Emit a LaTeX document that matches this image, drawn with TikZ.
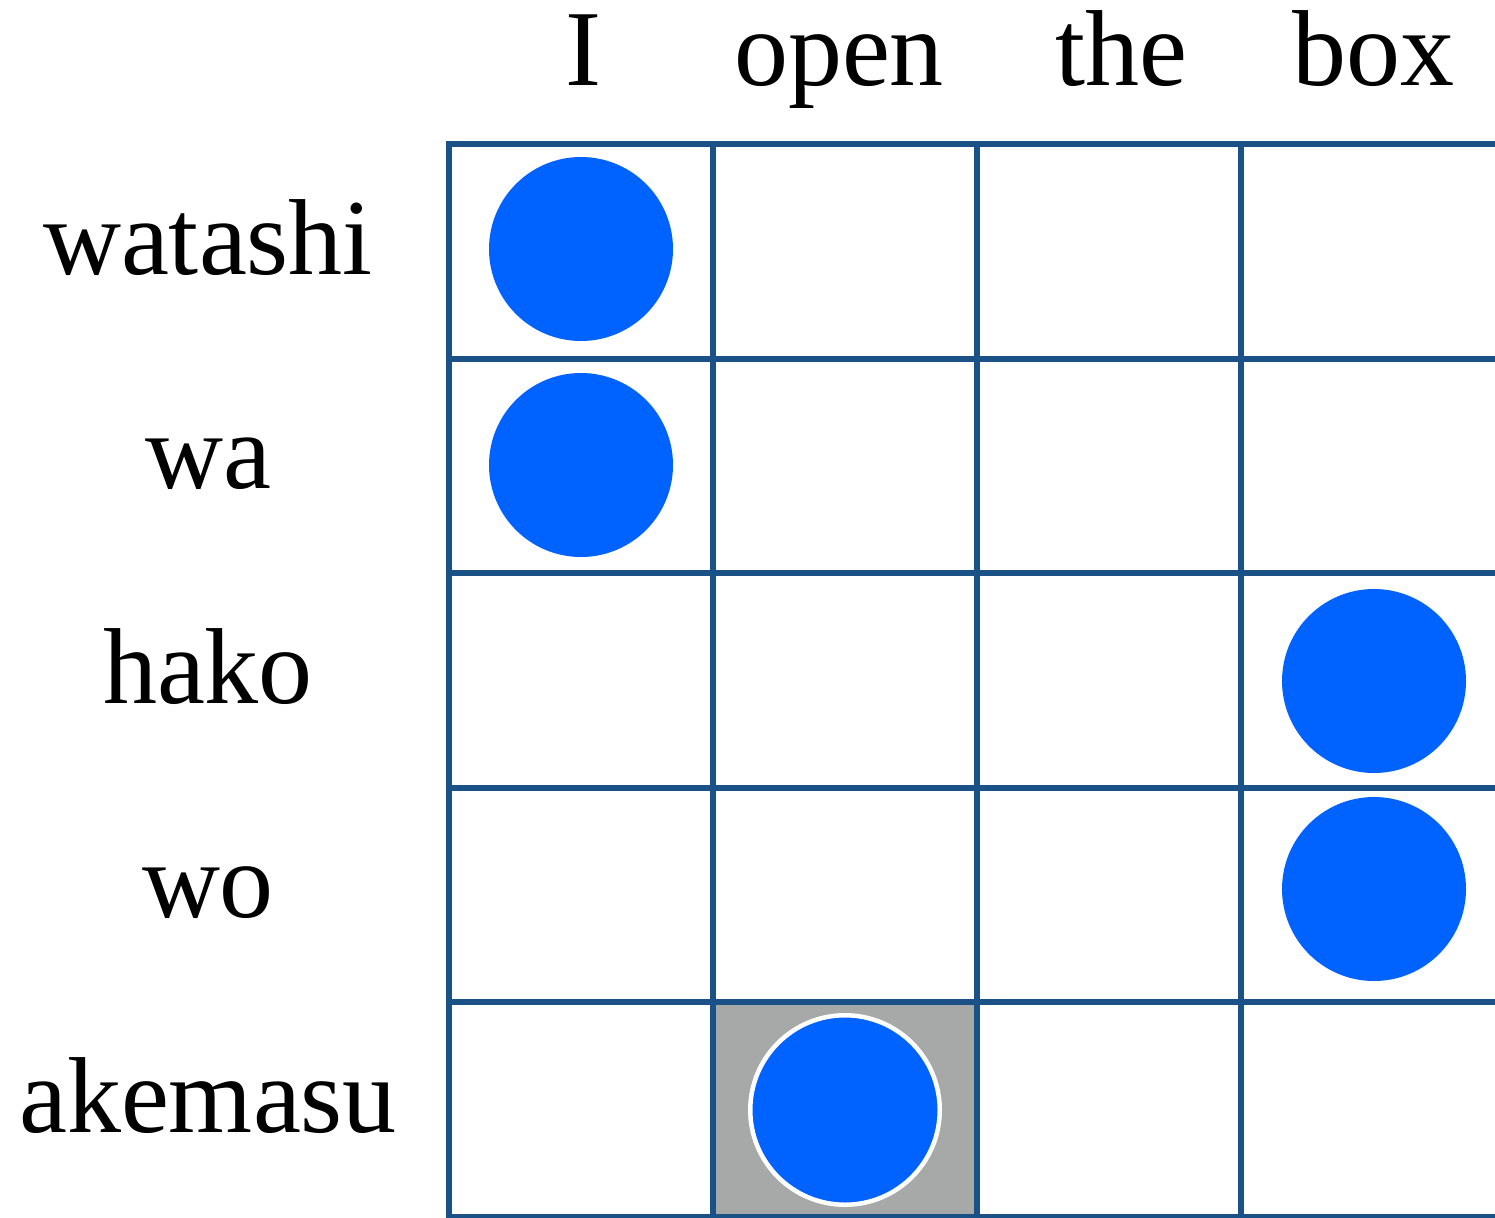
\documentclass[tikz,border=0pt]{standalone}
\usepackage{fontspec}
\setmainfont{Liberation Serif}
\usepackage{tikz}
\usetikzlibrary{positioning}
\definecolor{gridblue}{HTML}{1A5186}
\definecolor{dotblue}{HTML}{0062FF}
\definecolor{cellgrey}{HTML}{A6A9A8}
\tikzset{
  word/.style     = {font=\fontsize{108}{120}\selectfont, inner sep=0pt, anchor=base},
  gridline/.style = {draw=gridblue, line width=6pt},
  dot/.style      = {circle, fill=dotblue, minimum size=184pt, inner sep=0pt},
  hit/.style      = {dot, draw=white, line width=4.5pt, minimum size=189.5pt},
  hl/.style       = {fill=cellgrey},
}

\begin{document}
\begin{tikzpicture}[x=1pt,y=-1pt]
  \useasboundingbox (0,0) rectangle (1495,1217);

  % shaded cell behind the grid
  \fill[hl] (713,1002.5) rectangle (977,1217);

  % grid
  \foreach \c in {0,...,4}
    \draw[gridline] ({449+\c*264},141) -- ({449+\c*264},1217);
  \foreach \r in {0,...,5}
    \draw[gridline] (446,{144+\r*214.5}) -- (1495,{144+\r*214.5});

  % English words on top
  \foreach \w/\x in {I/583, open/839, the/1121, box/1373}
    \node[word] (col-\w) at (\x,86) {\w};

  % Japanese words on the left
  \foreach \w [count=\i from 0] in {watashi,wa,hako,wo,akemasu}
    \node[word] (row-\w) at (208,{144+\i*214.5+130}) {\w};

  % alignment points
  \node[dot] (a-watashi-I)  at (581,249) {};
  \node[dot] (a-wa-I)       at (581,465) {};
  \node[dot] (a-hako-box)   at (1374,681) {};
  \node[dot] (a-wo-box)     at (1374,889) {};
  \node[hit] (a-akemasu-open) at (845,1110) {};
\end{tikzpicture}
\end{document}
